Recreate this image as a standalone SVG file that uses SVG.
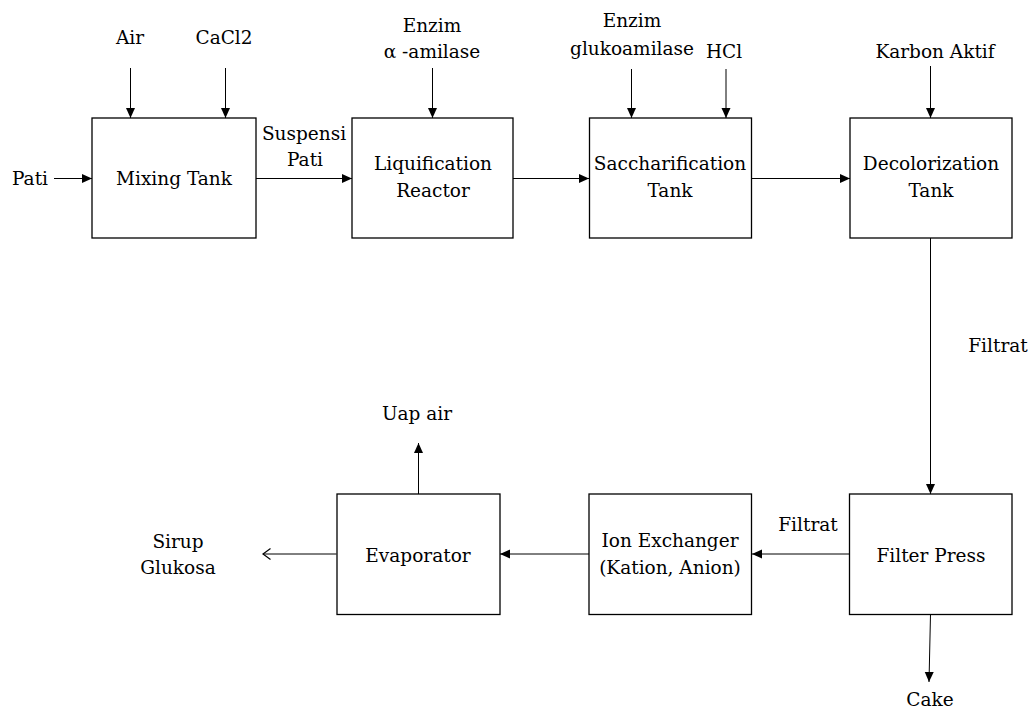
<svg xmlns="http://www.w3.org/2000/svg" width="1033" height="711" viewBox="0 0 1033 711">
<style>
text{font-size:18.5px;fill:#000;text-anchor:middle}
.box{fill:#fff;stroke:#000;stroke-width:1.3}
.ln{fill:none;stroke:#000;stroke-width:1}
</style>
<defs>
<marker id="ah" markerWidth="10" markerHeight="10" refX="10" refY="5" orient="auto" markerUnits="userSpaceOnUse">
<path d="M0,0.5 L10,5 L0,9.5 Z" fill="#000"/>
</marker>
<marker id="oh" markerWidth="10" markerHeight="12" refX="8" refY="6" orient="auto" markerUnits="userSpaceOnUse">
<path d="M0.5,0.5 L8,6 L0.5,11.5" fill="none" stroke="#000" stroke-width="1.2"/>
</marker>
</defs>
<rect width="1033" height="711" fill="#fff"/>
<g id="connectors">
<line class="ln" x1="130.5" y1="68" x2="130.5" y2="118" marker-end="url(#ah)"/>
<line class="ln" x1="225.5" y1="68" x2="225.5" y2="118" marker-end="url(#ah)"/>
<line class="ln" x1="54" y1="178.5" x2="92" y2="178.5" marker-end="url(#ah)"/>
<line class="ln" x1="256" y1="178.5" x2="352" y2="178.5" marker-end="url(#ah)"/>
<line class="ln" x1="432.5" y1="68" x2="432.5" y2="118" marker-end="url(#ah)"/>
<line class="ln" x1="513" y1="178.5" x2="589" y2="178.5" marker-end="url(#ah)"/>
<line class="ln" x1="631.5" y1="69" x2="631.5" y2="118" marker-end="url(#ah)"/>
<line class="ln" x1="726" y1="69" x2="726" y2="118" marker-end="url(#ah)"/>
<line class="ln" x1="752" y1="178.5" x2="850" y2="178.5" marker-end="url(#ah)"/>
<line class="ln" x1="930.5" y1="66" x2="930.5" y2="118" marker-end="url(#ah)"/>
<line class="ln" x1="930.5" y1="238" x2="930.5" y2="494" marker-end="url(#ah)"/>
<line class="ln" x1="849" y1="554" x2="752" y2="554" marker-end="url(#ah)"/>
<line class="ln" x1="589" y1="554" x2="500" y2="554" marker-end="url(#ah)"/>
<line class="ln" x1="336.5" y1="554" x2="263" y2="554" marker-end="url(#oh)"/>
<line class="ln" x1="418.5" y1="494" x2="418.5" y2="443" marker-end="url(#ah)"/>
<line class="ln" x1="930.5" y1="614" x2="929" y2="682" marker-end="url(#ah)"/>
</g>
<g font-family="'DejaVu Serif', serif">
<g id="mixing-tank">
<rect class="box" x="92" y="118" width="164" height="120"/>
<text x="174" y="185">Mixing Tank</text>
</g>
<g id="liquification-reactor">
<rect class="box" x="352" y="118" width="161" height="120"/>
<text x="433" y="170">Liquification</text>
<text x="433" y="197">Reactor</text>
</g>
<g id="saccharification-tank">
<rect class="box" x="589.5" y="118" width="162" height="120"/>
<text x="670" y="170">Saccharification</text>
<text x="670" y="197">Tank</text>
</g>
<g id="decolorization-tank">
<rect class="box" x="850" y="118" width="162" height="120"/>
<text x="931" y="170">Decolorization</text>
<text x="931" y="197">Tank</text>
</g>
<g id="filter-press">
<rect class="box" x="849.5" y="494" width="162.5" height="120.5"/>
<text x="931" y="562">Filter Press</text>
</g>
<g id="ion-exchanger">
<rect class="box" x="589" y="494" width="162.5" height="120.5"/>
<text x="670" y="547">Ion Exchanger</text>
<text x="670" y="574">(Kation, Anion)</text>
</g>
<g id="evaporator">
<rect class="box" x="337" y="494" width="163" height="120.5"/>
<text x="418" y="562">Evaporator</text>
</g>
<g id="labels">
<text x="130" y="44">Air</text>
<text x="224" y="44">CaCl2</text>
<text x="30" y="185">Pati</text>
<text x="304" y="140">Suspensi</text>
<text x="305" y="166">Pati</text>
<text x="432" y="32">Enzim</text>
<text x="432" y="58">α -amilase</text>
<text x="632" y="27">Enzim</text>
<text x="632" y="55">glukoamilase</text>
<text x="724" y="58">HCl</text>
<text x="935" y="58">Karbon Aktif</text>
<text x="998" y="352">Filtrat</text>
<text x="808" y="531">Filtrat</text>
<text x="417" y="420">Uap air</text>
<text x="178" y="548">Sirup</text>
<text x="178" y="574">Glukosa</text>
<text x="930" y="706">Cake</text>
</g>
</g>
</svg>
